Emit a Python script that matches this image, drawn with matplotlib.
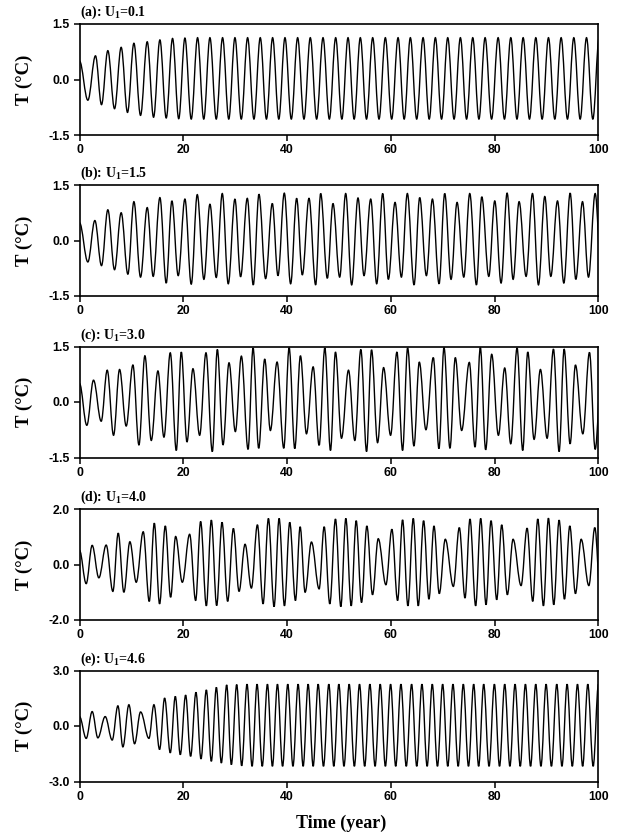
import numpy as np
import matplotlib
matplotlib.use("Agg")
import matplotlib.pyplot as plt
from matplotlib.path import Path
from matplotlib.patches import PathPatch

# ---------------- data (extrema) ----------------
titles = ["(a): U$_\\mathregular{1}$=0.1", "(b): U$_\\mathregular{1}$=1.5",
          "(c): U$_\\mathregular{1}$=3.0", "(d): U$_\\mathregular{1}$=4.0",
          "(e): U$_\\mathregular{1}$=4.6"]
y_limits = [1.5, 1.5, 1.5, 2.0, 3.0]
ytick_labels = [["-1.5", "0.0", "1.5"], ["-1.5", "0.0", "1.5"], ["-1.5", "0.0", "1.5"],
                ["-2.0", "0.0", "2.0"], ["-3.0", "0.0", "3.0"]]
xticks = [0, 20, 40, 60, 80, 100]
xtick_labels = ["0", "20", "40", "60", "80", "100"]

# panel (a)
a_start = 0.50
a_trough_t = [1.61, 4.24, 6.75, 9.25, 11.76, 14.27, 16.71, 19.12, 21.53, 23.94,
              26.35, 28.76, 31.17, 33.61, 36.02, 38.40, 40.81, 43.25, 45.69, 48.14,
              50.55, 52.92, 55.30, 57.71, 60.15, 62.56, 64.97, 67.38, 69.76, 72.17,
              74.58, 76.96, 79.40, 81.88, 84.29, 86.70, 89.14, 91.58, 94.02, 96.47,
              98.91]
a_trough_v = [-0.56, -0.68, -0.79, -0.89, -0.97, -1.02, -1.04, -1.06, -1.07, -1.07,
              -1.07, -1.07, -1.07, -1.07, -1.07, -1.07, -1.07, -1.07, -1.07, -1.07,
              -1.07, -1.07, -1.07, -1.07, -1.07, -1.07, -1.07, -1.07, -1.07, -1.07,
              -1.07, -1.07, -1.07, -1.07, -1.07, -1.07, -1.07, -1.07, -1.07, -1.07,
              -1.07]
a_peak_t = [3.08, 5.46, 8.03, 10.48, 13.05, 15.49, 17.93, 20.31, 22.75, 25.13,
            27.57, 29.95, 32.39, 34.83, 37.21, 39.59, 42.03, 44.47, 46.92, 49.36,
            51.74, 54.11, 56.49, 58.93, 61.38, 63.75, 66.20, 68.57, 70.95, 73.39,
            75.77, 78.15, 80.66, 83.10, 85.48, 87.92, 90.36, 92.80, 95.24, 97.69,
            100.13]
a_peak_v = [0.64, 0.78, 0.87, 0.98, 1.02, 1.07, 1.11, 1.12, 1.13, 1.13,
            1.13, 1.13, 1.13, 1.13, 1.13, 1.13, 1.13, 1.13, 1.13, 1.13,
            1.13, 1.13, 1.13, 1.13, 1.13, 1.13, 1.13, 1.13, 1.13, 1.13,
            1.13, 1.13, 1.13, 1.13, 1.13, 1.13, 1.13, 1.13, 1.13, 1.13,
            1.13]

# panel (b)
b_start = 0.48
b_trough_t = [1.61, 4.24, 6.75, 9.32, 11.76, 14.20, 16.71, 19.02, 21.53, 23.97,
              26.35, 28.66, 31.04, 33.48, 35.86, 38.24, 40.68, 42.93, 45.50, 47.75,
              50.13, 52.44, 54.82, 57.26, 59.51, 62.02, 64.46, 66.84, 69.28, 71.59,
              74.04, 76.48, 78.86, 81.23, 83.55, 86.05, 88.43, 90.81, 93.32, 95.63,
              98.07, 100.55]
b_trough_v = [-0.58, -0.68, -0.79, -0.91, -0.99, -0.97, -1.15, -0.95, -1.18, -1.05,
              -1.00, -1.17, -0.98, -1.20, -1.03, -0.95, -1.17, -0.93, -1.20, -1.02,
              -0.99, -1.20, -0.95, -1.17, -1.05, -0.99, -1.20, -0.95, -1.17, -1.05,
              -0.99, -1.20, -0.97, -1.15, -1.05, -0.97, -1.20, -0.97, -1.15, -1.05,
              -0.99, -1.00]
b_peak_t = [2.96, 5.46, 8.03, 10.48, 13.05, 15.49, 17.80, 20.31, 22.69, 25.13,
            27.51, 29.95, 32.33, 34.58, 37.15, 39.46, 41.84, 44.22, 46.47, 48.84,
            51.29, 53.66, 56.11, 58.42, 60.80, 63.17, 65.55, 68.00, 70.37, 72.75,
            75.19, 77.51, 80.01, 82.39, 84.70, 87.28, 89.65, 92.10, 94.54, 96.92,
            99.36]
b_peak_v = [0.54, 0.83, 0.75, 1.05, 0.89, 1.16, 1.07, 1.12, 1.24, 0.98,
            1.27, 1.12, 1.14, 1.25, 1.00, 1.28, 1.14, 1.14, 1.27, 1.00,
            1.27, 1.15, 1.12, 1.27, 1.03, 1.27, 1.16, 1.12, 1.27, 1.03,
            1.27, 1.18, 1.07, 1.28, 1.05, 1.27, 1.19, 1.07, 1.28, 1.05,
            1.27]

# panel (c)
c_start = 0.50
c_trough_t = [1.41, 4.18, 6.56, 9.00, 11.45, 13.83, 16.27, 18.65, 20.71, 23.15,
              25.59, 27.65, 30.03, 32.48, 34.53, 36.78, 39.36, 41.48, 43.73, 46.17,
              48.36, 50.48, 53.05, 55.31, 57.43, 59.94, 62.25, 64.44, 66.75, 69.26,
              71.38, 73.63, 76.21, 78.26, 80.71, 83.09, 85.40, 87.59, 90.10, 92.41,
              94.53, 96.98, 99.36]
c_trough_v = [-0.63, -0.52, -0.90, -0.65, -1.16, -1.04, -0.95, -1.31, -1.08, -0.90,
              -1.34, -1.16, -0.80, -1.28, -1.25, -0.77, -1.25, -1.26, -0.86, -1.17,
              -1.31, -0.98, -1.04, -1.34, -1.10, -0.90, -1.31, -1.19, -0.75, -1.26,
              -1.25, -0.77, -1.22, -1.29, -0.90, -1.13, -1.31, -1.01, -0.98, -1.34,
              -1.13, -0.86, -1.28]
c_peak_t = [2.70, 5.34, 7.72, 10.29, 12.60, 15.11, 17.49, 19.61, 21.86, 24.37,
            26.56, 28.81, 31.19, 33.44, 35.69, 38.07, 40.39, 42.57, 45.02, 47.27,
            49.32, 51.83, 54.21, 56.27, 58.59, 61.16, 63.22, 65.47, 68.17, 70.23,
            72.41, 75.11, 77.23, 79.42, 81.93, 84.31, 86.37, 88.81, 91.32, 93.38,
            95.56, 98.26, 100.60]
c_peak_v = [0.59, 0.86, 0.88, 1.00, 1.25, 0.84, 1.33, 1.35, 0.90, 1.33,
            1.42, 1.06, 1.24, 1.46, 1.16, 1.08, 1.47, 1.25, 0.95, 1.46,
            1.35, 0.86, 1.42, 1.41, 0.93, 1.35, 1.46, 1.08, 1.20, 1.47,
            1.20, 1.07, 1.47, 1.29, 0.92, 1.46, 1.35, 0.88, 1.43, 1.43,
            1.00, 1.34, 1.00]

# panel (d)
d_start = 0.51
d_trough_t = [1.29, 3.73, 6.43, 8.55, 10.93, 13.44, 15.43, 17.56, 19.81, 22.38,
              24.44, 26.43, 28.55, 30.74, 33.12, 35.37, 37.49, 39.49, 41.61, 43.47,
              46.17, 48.23, 50.35, 52.35, 54.34, 56.46, 59.04, 61.29, 63.28, 65.27,
              67.33, 69.32, 72.03, 74.28, 76.33, 78.33, 80.39, 82.44, 85.08, 87.33,
              89.39, 91.38, 93.44, 95.56, 98.14, 100.39]
d_trough_v = [-0.69, -0.48, -0.97, -1.00, -0.64, -1.33, -1.42, -1.18, -0.64, -1.30,
              -1.49, -1.48, -1.33, -0.97, -0.85, -1.42, -1.52, -1.49, -1.30, -1.00,
              -0.88, -1.42, -1.52, -1.49, -1.37, -1.09, -0.73, -1.30, -1.49, -1.49,
              -1.25, -1.05, -0.79, -1.21, -1.49, -1.45, -1.27, -1.09, -0.76, -1.33,
              -1.49, -1.45, -1.25, -1.05, -0.76, -1.20]
d_peak_t = [2.44, 5.14, 7.46, 9.71, 12.28, 14.41, 16.53, 18.52, 21.22, 23.34,
            25.40, 27.46, 29.65, 31.90, 34.28, 36.40, 38.46, 40.51, 42.51, 44.69,
            47.14, 49.32, 51.32, 53.31, 55.37, 57.56, 60.19, 62.25, 64.31, 66.30,
            68.30, 70.48, 73.18, 75.24, 77.30, 79.29, 81.35, 83.54, 86.24, 88.30,
            90.35, 92.41, 94.47, 96.66, 99.29]
d_peak_v = [0.69, 0.70, 1.13, 0.82, 1.18, 1.49, 1.39, 1.01, 1.09, 1.55,
            1.60, 1.52, 1.30, 0.73, 1.43, 1.66, 1.66, 1.52, 1.36, 0.81,
            1.36, 1.64, 1.66, 1.58, 1.39, 0.93, 1.27, 1.61, 1.66, 1.58,
            1.39, 0.91, 1.33, 1.64, 1.66, 1.58, 1.43, 0.91, 1.31, 1.64,
            1.67, 1.60, 1.39, 0.91, 1.33]

# panel (e)
e_start = 0.51
e_trough_t = [1.29, 3.54, 6.30, 8.36, 10.61, 13.38, 15.43, 17.49, 19.42, 21.41,
              23.41, 25.40, 27.33, 29.26, 31.25, 33.25, 35.21, 37.17, 39.13, 41.13,
              43.09, 45.02, 47.01, 49.00, 50.96, 52.96, 54.95, 56.95, 58.94, 60.93,
              62.96, 64.98, 66.98, 68.97, 70.96, 72.96, 74.95, 76.91, 78.91, 80.93,
              82.93, 84.92, 86.91, 88.91, 90.93, 92.96, 94.95, 96.95, 98.97]
e_trough_v = [-0.67, -0.64, -0.76, -1.13, -0.96, -0.67, -1.27, -1.45, -1.55, -1.64,
              -1.78, -1.91, -2.00, -2.09, -2.15, -2.18, -2.18, -2.18, -2.18, -2.18,
              -2.18, -2.18, -2.18, -2.18, -2.18, -2.18, -2.18, -2.18, -2.18, -2.18,
              -2.18, -2.18, -2.18, -2.18, -2.18, -2.18, -2.18, -2.18, -2.18, -2.18,
              -2.18, -2.18, -2.18, -2.18, -2.18, -2.18, -2.18, -2.18, -2.18]
e_peak_t = [2.44, 4.95, 7.40, 9.52, 11.77, 14.34, 16.40, 18.46, 20.45, 22.44,
            24.44, 26.37, 28.36, 30.29, 32.28, 34.21, 36.21, 38.14, 40.13, 42.12,
            44.05, 45.98, 48.04, 49.97, 51.96, 53.95, 55.95, 57.94, 59.94, 61.93,
            63.99, 65.98, 67.97, 69.97, 71.96, 73.95, 75.95, 77.88, 79.94, 81.93,
            83.92, 85.92, 87.91, 89.90, 91.96, 93.95, 95.95, 97.94, 100.00]
e_peak_v = [0.78, 0.51, 1.09, 1.15, 0.76, 1.15, 1.51, 1.60, 1.67, 1.82,
            1.95, 2.09, 2.22, 2.24, 2.26, 2.26, 2.26, 2.26, 2.26, 2.26,
            2.26, 2.26, 2.26, 2.26, 2.26, 2.26, 2.26, 2.26, 2.26, 2.26,
            2.26, 2.26, 2.26, 2.26, 2.26, 2.26, 2.26, 2.26, 2.26, 2.26,
            2.26, 2.26, 2.26, 2.26, 2.26, 2.26, 2.26, 2.26, 2.26]

series = [
    (a_start, a_trough_t, a_trough_v, a_peak_t, a_peak_v),
    (b_start, b_trough_t, b_trough_v, b_peak_t, b_peak_v),
    (c_start, c_trough_t, c_trough_v, c_peak_t, c_peak_v),
    (d_start, d_trough_t, d_trough_v, d_peak_t, d_peak_v),
    (e_start, e_trough_t, e_trough_v, e_peak_t, e_peak_v),
]

# ---------------- styling ----------------
plt.rcParams['font.family'] = ['Liberation Sans', 'DejaVu Sans']
plt.rcParams['mathtext.fontset'] = 'custom'
plt.rcParams['mathtext.rm'] = 'Liberation Serif:bold'
plt.rcParams['mathtext.it'] = 'Liberation Serif:bold'
plt.rcParams['mathtext.bf'] = 'Liberation Serif:bold'

SERIF = ['Liberation Serif', 'DejaVu Serif']

fig = plt.figure(figsize=(6.18, 8.34), dpi=100)
W, H = 618.0, 834.0
left_px, right_px = 79.5, 598.5
bottoms_px = [135.0, 296.0, 457.5, 620.0, 781.5]
height_px = 111.0


def extrema_path(start, tt, tv, pt, pv):
    ts = [0.0] + list(tt) + list(pt)
    vs = [start] + list(tv) + list(pv)
    order = np.argsort(ts)
    ts = np.asarray(ts)[order]
    vs = np.asarray(vs)[order]
    k = 1.0 - 2.0 / np.pi
    verts = [(ts[0], vs[0])]
    codes = [Path.MOVETO]
    for i in range(len(ts) - 1):
        dt = ts[i + 1] - ts[i]
        verts += [(ts[i] + k * dt, vs[i]), (ts[i + 1] - k * dt, vs[i + 1]),
                  (ts[i + 1], vs[i + 1])]
        codes += [Path.CURVE4] * 3
    return Path(verts, codes)


for i in range(5):
    ax = fig.add_axes([left_px / W, 1 - bottoms_px[i] / H,
                       (right_px - left_px) / W, height_px / H])
    start, tt, tv, pt, pv = series[i]
    path = extrema_path(start, tt, tv, pt, pv)
    ax.add_patch(PathPatch(path, fill=False, edgecolor='black', linewidth=1.0,
                           transform=ax.transData))
    lim = y_limits[i]
    ax.set_xlim(0, 100)
    ax.set_ylim(-lim, lim)
    ax.set_xticks(xticks)
    ax.set_xticklabels(xtick_labels)
    ax.set_yticks([-lim, 0.0, lim])
    ax.set_yticklabels(ytick_labels[i])
    for s in ax.spines.values():
        s.set_linewidth(1.2)
    ax.tick_params(axis='both', direction='out', length=4, width=1.1,
                   labelsize=8.8, top=False, right=False)
    ax.tick_params(axis='x', pad=2.5)
    ax.tick_params(axis='y', pad=3.0)
    for lab in ax.get_xticklabels() + ax.get_yticklabels():
        lab.set_fontweight('bold')
    ax.text(0.0, 1.0 + 3.0 / height_px, titles[i], transform=ax.transAxes,
            ha='left', va='bottom', fontsize=10, family=SERIF, fontweight='bold')
    ax.text(-55.0 / (right_px - left_px), 0.5, "T (°C)", transform=ax.transAxes,
            rotation=90, ha='center', va='center', fontsize=13.5, family=SERIF,
            fontweight='bold')

fig.text((left_px + right_px) / 2 / W + 2.0 / W, 1 - 823.0 / H, "Time (year)",
         ha='center', va='center', fontsize=13, family=SERIF, fontweight='bold')

fig.savefig("out.png", dpi=100)
